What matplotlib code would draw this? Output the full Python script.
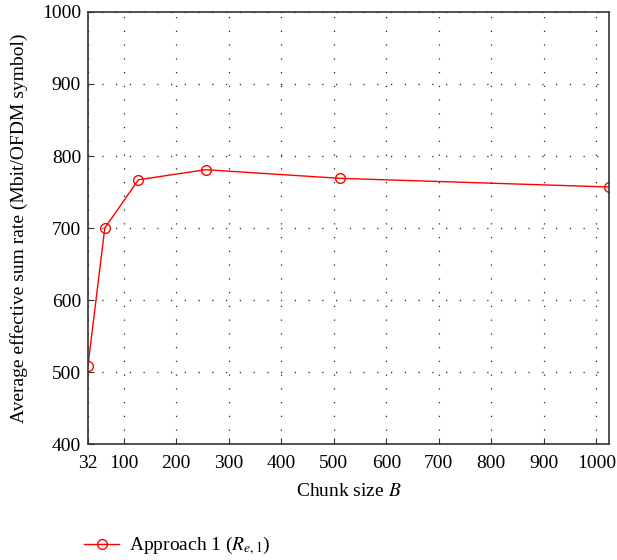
import matplotlib
matplotlib.use("Agg")
import matplotlib.pyplot as plt

plt.rcParams['font.family'] = ['Liberation Serif', 'DejaVu Serif']
plt.rcParams['mathtext.fontset'] = 'stix'

chunk = [32, 64, 128, 256, 512, 1024]
rate = [509, 700, 767, 781, 769, 757]
xticks = [32, 100, 200, 300, 400, 500, 600, 700, 800, 900, 1000]
yticks = [400, 500, 600, 700, 800, 900, 1000]

fig = plt.figure(figsize=(6.17, 5.6), dpi=100)
ax = fig.add_axes([0.1426, 0.207, 0.987 - 0.1426, 0.9786 - 0.207])

line, = ax.plot(chunk, rate, '-', color='red', lw=1.0, marker='o', ms=7,
                mfc='none', mec='red', mew=1.0, label=r'Approach 1 ($R_{e,1}$)')

ax.set_xlim(32, 1024)
ax.set_ylim(400, 1000)
ax.set_xticks(xticks)
ax.set_yticks(yticks)
ax.tick_params(direction='in', labelsize=14, length=4, color='#333333',
               top=False, right=False, pad=5)
ax.tick_params(axis='x', pad=8)
ax.grid(True, linestyle=(0, (1, 10)), color='#222222', lw=0.9)
for s in ax.spines.values():
    s.set_color('#333333')
    s.set_linewidth(1.2)

ax.set_xlabel('Chunk size $B$', fontsize=14, labelpad=8)
ax.set_ylabel('Average effective sum rate (Mbit/OFDM symbol)', fontsize=14, labelpad=10)

fig.legend(handles=[line], loc='center left', bbox_to_anchor=(0.108, 0.025),
           frameon=False, fontsize=14, handlelength=1.8, handletextpad=0.5)

plt.savefig('out.png', dpi=100)
